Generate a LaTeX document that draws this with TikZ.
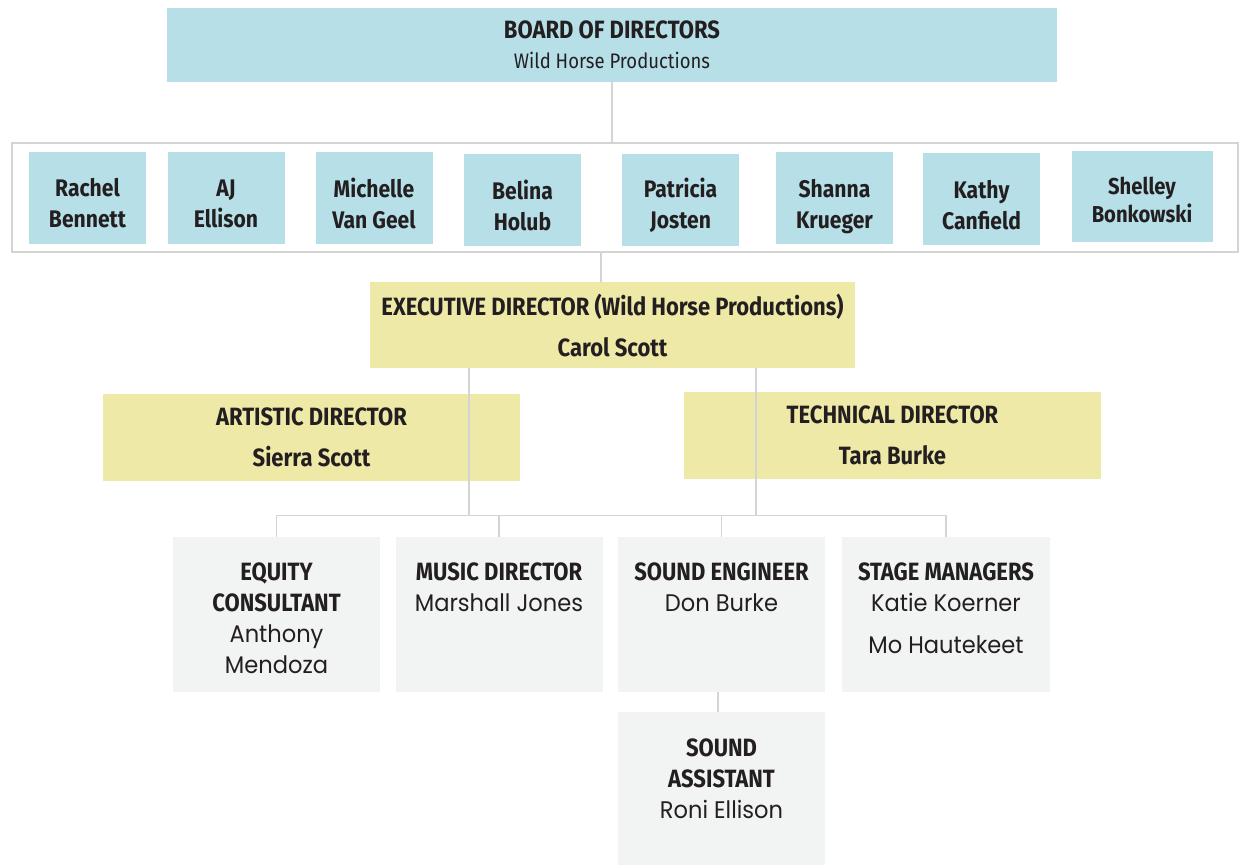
\documentclass[tikz,border=0pt]{standalone}
\usepackage{fontspec}
\setmainfont{Poppins}[FakeStretch=0.94]
\newfontfamily\headfont{Fira Sans}[FakeStretch=0.88]
\usetikzlibrary{positioning}

\definecolor{boardblue}{HTML}{B6DFE8}
\definecolor{leadyellow}{HTML}{EFE9A8}
\definecolor{staffgrey}{HTML}{F2F3F3}
\definecolor{linkgrey}{HTML}{D4D4D4}
\definecolor{inkdark}{HTML}{231F20}

\tikzset{
  box/.style={inner sep=0pt, align=center, text=inkdark},
  board/.style={box, fill=boardblue, minimum width=890, minimum height=74,
    font=\headfont\fontsize{21}{30}\selectfont},
  member/.style={box, fill=boardblue, minimum width=117, minimum height=92},
  nametext/.style={align=center, inner sep=0pt, text=inkdark, yshift=-5.5pt,
    font=\headfont\bfseries\fontsize{24}{31}\selectfont},
  lead/.style={box, fill=leadyellow, minimum width=417, minimum height=87,
    font=\headfont\bfseries\fontsize{25}{41}\selectfont},
  staff/.style={box, fill=staffgrey, minimum width=207, minimum height=155},
  stafftext/.style={anchor=north, align=center, text=inkdark, inner sep=0pt,
    font=\fontsize{24}{31}\selectfont},
  link/.style={draw=linkgrey, line width=1.2},
}
\newcommand{\rolename}[1]{{\headfont\bfseries\fontsize{25}{31}\selectfont #1}}

\begin{document}
\begin{tikzpicture}[x=1pt,y=-1pt]
\useasboundingbox[fill=white] (0,0) rectangle (1241,865);

% board and its members
\node[board] (board) at (612,45) {{\bfseries\fontsize{25}{30}\selectfont BOARD OF DIRECTORS}\\Wild Horse Productions};
\node[draw=linkgrey, line width=1.2, minimum width=1226, minimum height=109, inner sep=0pt] (members) at (625,197.5) {};

\node[member, label={[nametext]center:Rachel\\Bennett}] (rachel) at (87.5,198) {};
\node[member, label={[nametext]center:AJ\\Ellison}] (aj) at (226,198) {};
\node[member, label={[nametext]center:Michelle\\Van Geel}] (michelle) at (374,198) {};
\node[member, label={[nametext]center:Belina\\Holub}] (belina) at (522.5,200) {};
\node[member, label={[nametext]center:Patricia\\Josten}] (patricia) at (680.5,200) {};
\node[member, label={[nametext, yshift=-3pt]center:Shanna\\Krueger}] (shanna) at (834.5,198) {};
\node[member, label={[nametext, yshift=-1pt]center:Kathy\\Canfield}] (kathy) at (981.5,198.5) {};
\node[member, minimum width=141, minimum height=91,
  label={[nametext, yshift=2.5pt, font=\headfont\bfseries\fontsize{23}{28}\selectfont]center:Shelley\\Bonkowski}] (shelley) at (1142,196.5) {};

% directors
\node[lead, minimum width=485, minimum height=86] (exec) at (612.5,325) {EXECUTIVE DIRECTOR (Wild Horse Productions)\\Carol Scott};
\node[lead] (artistic) at (311.5,437.5) {ARTISTIC DIRECTOR\\Sierra Scott};
\node[lead] (technical) at (892.5,435.5) {TECHNICAL DIRECTOR\\Tara Burke};

% staff
\node[staff] (equity) at (276.5,614.5) {};
\node[staff] (music) at (499,614.5) {};
\node[staff] (sound) at (721.5,614.5) {};
\node[staff, minimum width=208] (stage) at (946,614.5) {};
\node[staff, minimum height=153] (assistant) at (721.5,788.5) {};

\node[stafftext] at ([yshift=-26pt]equity.north) {\rolename{EQUITY}\\\rolename{CONSULTANT}\\Anthony\\Mendoza};
\node[stafftext] at ([yshift=-26pt]music.north) {\rolename{MUSIC DIRECTOR}\\Marshall Jones};
\node[stafftext] at ([yshift=-26pt]sound.north) {\rolename{SOUND ENGINEER}\\Don Burke};
\node[stafftext] at ([yshift=-26pt]stage.north) {\rolename{STAGE MANAGERS}\\Katie Koerner\\[11pt]Mo Hautekeet};
\node[stafftext] at ([yshift=-27pt]assistant.north) {\rolename{SOUND}\\\rolename{ASSISTANT}\\Roni Ellison};

% connectors
\draw[link] (board.south) -- (board.south |- members.north);
\draw[link] ([xshift=-11.5]exec.north) -- ([xshift=-11.5]exec.north |- members.south);
\draw[link] ([xshift=-143.5]exec.south) -- ++(0,148);
\draw[link] ([xshift=143.5]exec.south) -- ++(0,148);
\draw[link] (equity.north) -- ++(0,-21) -| (stage.north);
\draw[link] (music.north) -- ++(0,-21);
\draw[link] (sound.north) -- ++(0,-21);
\draw[link] ([xshift=-3.5]sound.south) -- ([xshift=-3.5]assistant.north);
\end{tikzpicture}
\end{document}
